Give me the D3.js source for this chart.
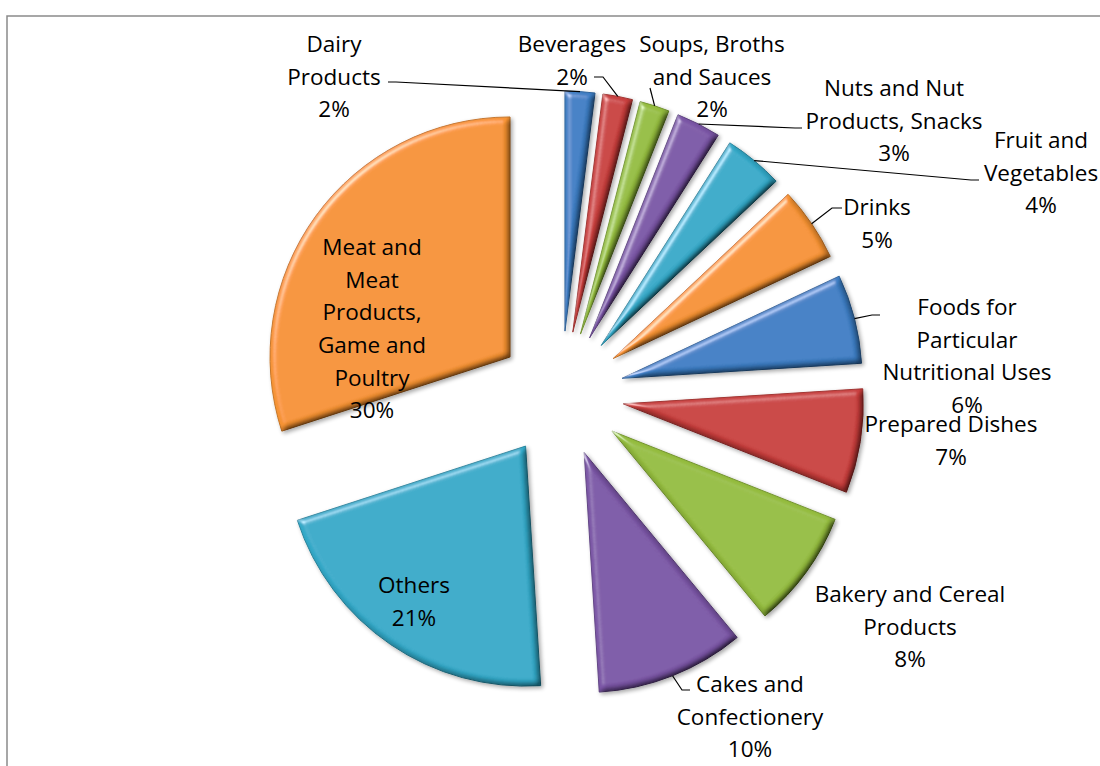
<!DOCTYPE html>
<html>
<head>
<meta charset="utf-8">
<script src="https://cdn.jsdelivr.net/npm/d3@7"></script>
<style>
  body { margin: 0; background: #fff; }
  text { font-family: "Open Sans", "Noto Sans", sans-serif; }
</style>
</head>
<body>
<div id="chart"></div>
<script>
// data, clockwise from 12 o'clock
var categories = ["Dairy Products", "Beverages", "Soups, Broths and Sauces",
  "Nuts and Nut Products, Snacks", "Fruit and Vegetables", "Drinks",
  "Foods for Particular Nutritional Uses", "Prepared Dishes",
  "Bakery  and Cereal Products", "Cakes and Confectionery", "Others",
  "Meat and Meat Products, Game and Poultry"];
var values = [2, 2, 2, 3, 4, 5, 6, 7, 8, 10, 21, 30];
var labelLines = [["Dairy", "Products"], ["Beverages"], ["Soups, Broths", "and Sauces"],
  ["Nuts and Nut", "Products, Snacks"], ["Fruit and", "Vegetables"], ["Drinks"],
  ["Foods for", "Particular", "Nutritional Uses"], ["Prepared Dishes"],
  ["Bakery  and Cereal", "Products"], ["Cakes and", "Confectionery"], ["Others"],
  ["Meat and", "Meat", "Products,", "Game and", "Poultry"]];

// layout of the labels (centre x, first line y) and leader starts
var labelPos = [[334, 44], [572, 44], [712, 44], [894, 88], [1041, 140], [877, 207],
  [967, 307], [951, 424], [910, 594], [750, 684], [414, 585], [372, 247]];
var leaderStart = [[[388, 82], [396, 82]], [[594, 77], [603, 77]], [[650, 88]],
  [[802, 128], [795, 128]], [[979, 180], [971, 180]], [[842, 208], [832, 208]],
  [[880, 315], [872, 315]], null, null, [[690, 690], [682, 690]], null, null];

var colors = ["#3C7DC3", "#C83E3C", "#94BC3E", "#7A55A5", "#33A9C8", "#F59232"];

var width = 1100, height = 766;
var cx = 561, cy = 394, radius = 240, explode = 63, lineH = 32.7;

var svg = d3.select("#chart").append("svg")
  .attr("width", width)
  .attr("height", height);

// bevel / lighting filter
var defs = svg.append("defs");
var f = defs.append("filter").attr("id", "bevel")
  .attr("x", "-10%").attr("y", "-10%").attr("width", "125%").attr("height", "125%");
f.append("feGaussianBlur").attr("in", "SourceAlpha").attr("stdDeviation", 3).attr("result", "blur");
f.append("feDiffuseLighting").attr("in", "blur").attr("surfaceScale", 4)
  .attr("diffuseConstant", 1.3).attr("lighting-color", "#fff").attr("result", "diff")
  .append("feDistantLight").attr("azimuth", 225).attr("elevation", 50);
f.append("feComposite").attr("in", "SourceGraphic").attr("in2", "diff")
  .attr("operator", "arithmetic").attr("k1", 1).attr("k2", 0).attr("k3", 0).attr("k4", 0)
  .attr("result", "shaded");
f.append("feSpecularLighting").attr("in", "blur").attr("surfaceScale", 4)
  .attr("specularConstant", 0.45).attr("specularExponent", 30)
  .attr("lighting-color", "#fff").attr("result", "spec")
  .append("feDistantLight").attr("azimuth", 225).attr("elevation", 40);
f.append("feComposite").attr("in", "spec").attr("in2", "SourceAlpha")
  .attr("operator", "in").attr("result", "specIn");
f.append("feComposite").attr("in", "shaded").attr("in2", "specIn")
  .attr("operator", "arithmetic").attr("k1", 0).attr("k2", 1).attr("k3", 1).attr("k4", 0)
  .attr("result", "lit");
f.append("feGaussianBlur").attr("in", "SourceAlpha").attr("stdDeviation", 2).attr("result", "sblur");
f.append("feOffset").attr("in", "sblur").attr("dx", 1.5).attr("dy", 2).attr("result", "soff");
f.append("feComponentTransfer").attr("in", "soff").attr("result", "shadow")
  .append("feFuncA").attr("type", "linear").attr("slope", 0.35);
var m = f.append("feMerge");
m.append("feMergeNode").attr("in", "shadow");
m.append("feMergeNode").attr("in", "lit");

// chart area frame
svg.append("rect")
  .attr("x", 7).attr("y", 16)
  .attr("width", 1200).attr("height", 800)
  .attr("fill", "none")
  .attr("stroke", "#8a8a8a")
  .attr("stroke-width", 1.5);

var data = categories.map(function (c, i) {
  return { name: c, value: values[i], lines: labelLines[i], i: i };
});

var pie = d3.pie().sort(null).value(function (d) { return d.value; });
var arc = d3.arc().innerRadius(0).outerRadius(radius);
var arcs = pie(data);

function mid(d) { return (d.startAngle + d.endAngle) / 2; }
function apex(d) {
  var a = mid(d);
  return [cx + explode * Math.sin(a), cy - explode * Math.cos(a)];
}

// slices
svg.append("g")
  .selectAll("path")
  .data(arcs)
  .enter()
  .append("path")
  .attr("transform", function (d) {
    var p = apex(d);
    return "translate(" + p[0] + "," + p[1] + ")";
  })
  .attr("d", arc)
  .attr("fill", function (d) { return colors[d.index % 6]; })
  .attr("stroke", function (d) { return d3.color(colors[d.index % 6]).darker(0.6); })
  .attr("stroke-width", 1)
  .attr("filter", "url(#bevel)");

// leader lines
svg.append("g")
  .selectAll("polyline")
  .data(arcs.filter(function (d) { return leaderStart[d.index]; }))
  .enter()
  .append("polyline")
  .attr("points", function (d) {
    var p = apex(d), a = mid(d);
    var end = [p[0] + radius * Math.sin(a), p[1] - radius * Math.cos(a)];
    return leaderStart[d.index].concat([end]).map(function (q) { return q.join(","); }).join(" ");
  })
  .attr("fill", "none")
  .attr("stroke", "#000")
  .attr("stroke-width", 1.2);

// labels
var labels = svg.append("g")
  .selectAll("text")
  .data(arcs)
  .enter()
  .append("text")
  .attr("text-anchor", "middle")
  .attr("font-size", "22.5px")
  .attr("fill", "#000");

labels.each(function (d) {
  var t = d3.select(this);
  var pos = labelPos[d.index];
  var lines = d.data.lines.concat([d.data.value + "%"]);
  lines.forEach(function (l, k) {
    t.append("tspan")
      .attr("x", pos[0])
      .attr("y", pos[1] + k * lineH)
      .attr("dy", "0.35em")
      .text(l);
  });
});
</script>
</body>
</html>
